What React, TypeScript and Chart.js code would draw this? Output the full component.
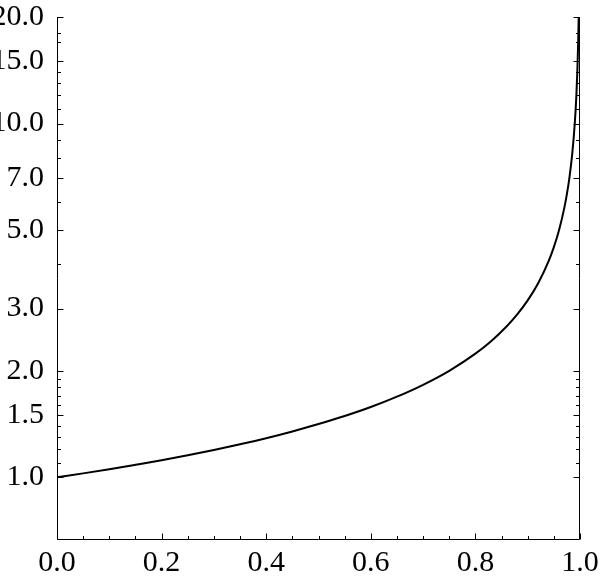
import React, { useEffect, useRef } from 'react';
import { Chart, registerables } from 'chart.js';

Chart.register(...registerables);

// curve
const xValues = [
  0, 0.05, 0.1, 0.15, 0.2, 0.25, 0.3, 0.35, 0.4, 0.45, 0.5, 0.55, 0.6, 0.65, 0.7, 0.75,
  0.8, 0.83, 0.86, 0.88, 0.9, 0.92, 0.94, 0.95, 0.96, 0.97, 0.975, 0.98, 0.985, 0.99,
  0.993, 0.995, 0.9965, 0.9975,
];
const yValues = [
  1.0, 1.026, 1.054, 1.085, 1.118, 1.155, 1.195, 1.24, 1.29, 1.348, 1.414, 1.49, 1.58, 1.69,
  1.826, 2.0, 2.236, 2.425, 2.673, 2.887, 3.162, 3.536, 4.082, 4.472, 5.0, 5.774, 6.325,
  7.071, 8.165, 10.0, 11.95, 14.14, 16.9, 20.0,
];

const xMajorTicks = [0, 0.2, 0.4, 0.6, 0.8, 1.0];
const xMinorTicks = [
  0.05, 0.1, 0.15, 0.25, 0.3, 0.35, 0.45, 0.5, 0.55, 0.65, 0.7, 0.75, 0.85, 0.9, 0.95,
];
const yMajorTicks = [1, 1.5, 2, 3, 5, 7, 10, 15, 20];
const yMinorTicks = [1.1, 1.2, 1.3, 1.4, 1.6, 1.7, 1.8, 1.9, 4, 6, 8, 9, 11, 12, 13, 14, 17, 18];

const labelFont = { family: '"Liberation Serif", "Times New Roman", serif', size: 30 };

const frameTicks = {
  id: 'frameTicks',
  afterDraw(chart: any) {
    const { ctx, chartArea, scales } = chart;
    const { left, right, top, bottom } = chartArea;
    const xs = scales.x;
    const ys = scales.y;
    ctx.save();
    ctx.strokeStyle = '#000';
    ctx.lineWidth = 1;
    ctx.beginPath();
    const l = Math.round(left) + 0.5;
    const r = Math.round(right) - 0.5;
    const b = Math.round(bottom) - 0.5;
    ctx.moveTo(l, top);
    ctx.lineTo(l, b);
    ctx.lineTo(r, b);
    ctx.lineTo(r, top);
    const yTick = (v: number, len: number) => {
      const p = Math.round(ys.getPixelForValue(v)) + 0.5;
      ctx.moveTo(l, p);
      ctx.lineTo(l + len, p);
      ctx.moveTo(r, p);
      ctx.lineTo(r - len, p);
    };
    const xTick = (v: number, len: number) => {
      const p = Math.round(xs.getPixelForValue(v)) + 0.5;
      ctx.moveTo(p, b);
      ctx.lineTo(p, b - len);
    };
    yMajorTicks.forEach((v) => yTick(v, 6));
    yMinorTicks.forEach((v) => yTick(v, 3.5));
    xMajorTicks.forEach((v) => xTick(v, 6));
    xMinorTicks.forEach((v) => xTick(v, 3.5));
    ctx.stroke();
    ctx.restore();
  },
};

const App: React.FC = () => {
  const chartRef = useRef<HTMLCanvasElement | null>(null);

  useEffect(() => {
    document.body.style.margin = '0';
    if (!chartRef.current) return;

    const chart = new Chart(chartRef.current, {
      type: 'line',
      data: {
        datasets: [{
          data: xValues.map((x, i) => ({ x, y: yValues[i] })),
          borderColor: '#000',
          borderWidth: 2,
          pointRadius: 0,
          cubicInterpolationMode: 'monotone',
          fill: false,
        }],
      },
      options: {
        animation: false,
        responsive: true,
        maintainAspectRatio: false,
        layout: { padding: { top: 17, right: 20, left: 0, bottom: 0 } },
        plugins: { legend: { display: false }, tooltip: { enabled: false } },
        scales: {
          x: {
            type: 'linear',
            min: 0,
            max: 1,
            afterBuildTicks: (scale: any) => {
              scale.ticks = xMajorTicks.map((value) => ({ value }));
            },
            afterFit: (scale: any) => {
              scale.height = 39;
              scale.paddingLeft = 0;
              scale.paddingRight = 0;
            },
            grid: { display: false },
            border: { display: false },
            ticks: {
              color: '#000',
              font: labelFont,
              padding: -3,
              maxRotation: 0,
              callback: (v: any) => Number(v).toFixed(1),
            },
          },
          y: {
            type: 'logarithmic',
            min: 0.665,
            max: 20,
            afterBuildTicks: (scale: any) => {
              scale.ticks = yMajorTicks.map((value) => ({ value }));
            },
            afterFit: (scale: any) => {
              scale.width = 57;
              scale.paddingTop = 0;
              scale.paddingBottom = 0;
            },
            grid: { display: false },
            border: { display: false },
            ticks: {
              color: '#000',
              font: labelFont,
              padding: 5,
              autoSkip: false,
              callback: (v: any) => Number(v).toFixed(1),
            },
          },
        },
      },
      plugins: [frameTicks],
    });

    return () => chart.destroy();
  }, []);

  return (
    <div style={{ width: 600, height: 579, position: 'relative', background: '#fff' }}>
      <canvas ref={chartRef} />
    </div>
  );
};

export default App;
